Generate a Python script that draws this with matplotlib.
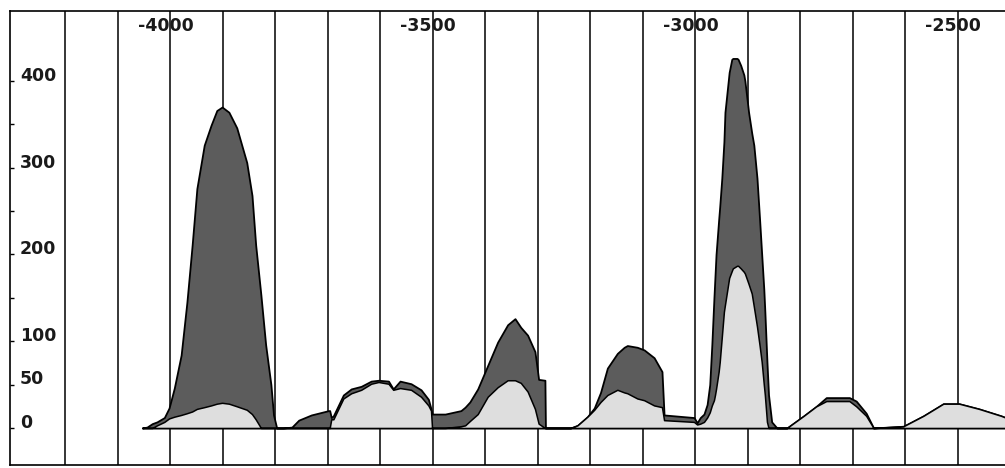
import matplotlib
matplotlib.use("Agg")
import matplotlib.pyplot as plt
import matplotlib.transforms as mtransforms

# ---- data ----
years = [-4053, -4044, -4034, -4025, -4011, -4002, -3992, -3979, -3968, -3958,
         -3949, -3935, -3922, -3911, -3901, -3888, -3873, -3854, -3844, -3837,
         -3827, -3818, -3808, -3803, -3797, -3784, -3768, -3755, -3731, -3698,
         -3696, -3693, -3689, -3670, -3655, -3636, -3617, -3603, -3584, -3575,
         -3562, -3541, -3522, -3508, -3503, -3501, -3476, -3446, -3438, -3429,
         -3414, -3395, -3376, -3357, -3343, -3332, -3319, -3305, -3298, -3286,
         -3285, -3237, -3224, -3205, -3192, -3180, -3167, -3148, -3135, -3129,
         -3110, -3097, -3078, -3063, -3059, -3002,
         -2996, -2990, -2983, -2977, -2972, -2968, -2964, -2962, -2960, -2955,
         -2953, -2949, -2945, -2943, -2935, -2930, -2928, -2920, -2918, -2913,
         -2907, -2905, -2898, -2892, -2888, -2882, -2877, -2873, -2869, -2867,
         -2863, -2860, -2854, -2844,
         -2825, -2793, -2769, -2750, -2706, -2693, -2674, -2660, -2603, -2565,
         -2527, -2497, -2459, -2417, -2400]

total = [0, 1, 5, 7, 12, 23, 46, 84, 145, 211,
         276, 326, 349, 366, 370, 364, 346, 306, 268, 211,
         153, 96, 50, 15, 0, 0, 1, 9, 15, 20,
         20, 12, 14, 38, 45, 48, 54, 55, 54, 45,
         54, 51, 44, 33, 22, 16, 16, 20, 24, 30,
         45, 72, 99, 119, 126, 116, 107, 88, 56, 55,
         0, 0, 3, 13, 23, 41, 69, 86, 93, 95,
         93, 90, 81, 65, 15, 12,
         6, 12, 16, 27, 50, 96, 150, 175, 200, 240,
         255, 288, 330, 364, 410, 425, 426, 426, 425, 418,
         407, 400, 364, 340, 326, 288, 240, 200, 160, 134,
         76, 38, 7, 0,
         0, 14, 25, 35, 35, 31, 17, 0, 2, 14,
         28, 28, 22, 14, 10]

subset = [0, 0, 0, 3, 7, 11, 13, 15, 17, 19,
          22, 24, 26, 28, 29, 28, 25, 21, 16, 10,
          0, 0, 0, 0, 0, 0, 0, 0, 0, 0,
          0, 10, 10, 34, 40, 44, 51, 53, 51, 44,
          46, 44, 36, 26, 20, 0, 0, 2, 3, 8,
          16, 36, 47, 55, 55, 52, 42, 22, 5, 0,
          0, 0, 3, 13, 21, 30, 38, 44, 41, 40,
          34, 32, 26, 24, 9, 7,
          4, 5, 7, 12, 18, 26, 32, 38, 45, 65,
          76, 105, 134, 142, 173, 181, 184, 187, 187, 184,
          180, 178, 166, 155, 140, 117, 95, 76, 50, 38,
          7, 0, 0, 0,
          0, 14, 25, 31, 31, 25, 14, 0, 2, 14,
          28, 28, 22, 14, 10]

grid_years = list(range(-4200, -2399, 100))
xlabel_years = [-4000, -3500, -3000, -2500]
xlabel_texts = ["-4000", "-3500", "-3000", "-2500"]
ytick_values = list(range(0, 401, 50))
ylabel_values = [0, 50, 100, 200, 300, 400]
ylabel_texts = ["0", "50", "100", "200", "300", "400"]

# ---- figure ----
fig = plt.figure(figsize=(10.05, 4.68), dpi=100)
ax = fig.add_axes([10 / 1005, 3 / 468, 1000 / 1005, 454 / 468])
ax.set_xlim(-4305, -2410)
ax.set_ylim(-42.7, 480.7)

dark = "#5c5c5c"
light = "#dedede"

ax.fill_between(years, 0, total, facecolor=dark, edgecolor="black",
                linewidth=1.3, zorder=2)
ax.fill_between(years, 0, subset, facecolor=light, edgecolor="black",
                linewidth=1.1, zorder=3)

# vertical grid
ax.set_xticks(grid_years)
ax.set_xticklabels([])
ax.tick_params(axis="x", length=0)
ax.grid(axis="x", color="black", linewidth=1.1, zorder=1)
ax.set_axisbelow(True)

# y ticks (inward, no default labels)
ax.set_yticks(ytick_values)
ax.set_yticklabels([])
ax.tick_params(axis="y", direction="in", length=3, width=1, color="black")

for sp in ax.spines.values():
    sp.set_linewidth(1.2)
    sp.set_color("black")

font = dict(family="DejaVu Sans", fontweight="bold", fontsize=12.5, color="#1a1a1a")

trans_y = mtransforms.blended_transform_factory(ax.transAxes, ax.transData)
for v, t in zip(ylabel_values, ylabel_texts):
    ax.text(0.010, v + 6, t, transform=trans_y, ha="left", va="center", **font)

trans_x = mtransforms.blended_transform_factory(ax.transData, ax.transAxes)
for v, t in zip(xlabel_years, xlabel_texts):
    ax.text(v - 8, 0.967, t, transform=trans_x, ha="center", va="center", **font)

fig.savefig("out.png", dpi=100)
